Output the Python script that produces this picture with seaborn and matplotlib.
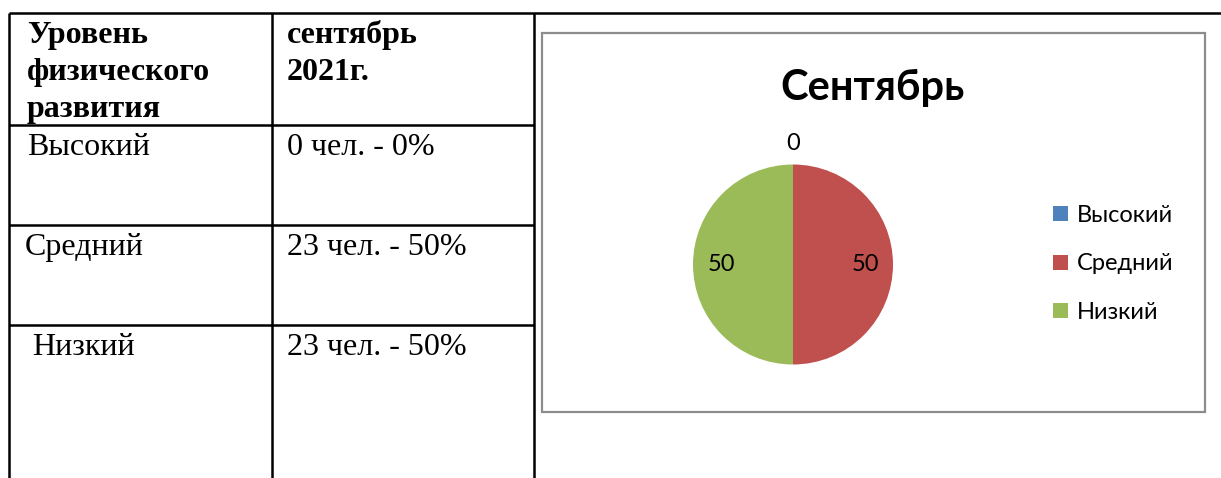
import matplotlib
matplotlib.use("Agg")
import matplotlib.pyplot as plt
from matplotlib.patches import Rectangle
import seaborn as sns

# --- data ---
levels = ["Высокий", "Средний", "Низкий"]
counts = [0, 23, 23]
percents = [0, 50, 50]
header_level = ["Уровень", "физического", "развития"]
header_month = ["сентябрь", "2021г."]
chart_title = "Сентябрь"
colors = ["#4F81BD", "#C0504D", "#9BBB59"]

sns.set_theme(style="white")
palette = sns.color_palette(colors)
plt.rcParams["font.family"] = ["Lato", "DejaVu Sans"]
plt.rcParams["text.color"] = "black"

W, H = 1221, 478
fig = plt.figure(figsize=(W / 100, H / 100), dpi=100)

# background axes in pixel coordinates (table + chart frame)
bg = fig.add_axes([0, 0, 1, 1])
bg.set_xlim(0, W)
bg.set_ylim(H, 0)
bg.axis("off")

lw_tab = 1.8
col_x = [9, 272, 534]
row_y = [125, 225, 325]
bg.plot([9, W], [13, 13], color="black", lw=lw_tab, solid_capstyle="butt")
for x in col_x:
    bg.plot([x, x], [13, H], color="black", lw=lw_tab, solid_capstyle="butt")
for y in row_y:
    bg.plot([9, 534], [y, y], color="black", lw=lw_tab, solid_capstyle="butt")

serif = "Liberation Serif"
for i, line in enumerate(header_level):
    bg.text(27, 43 + 37 * i, line, family=serif, fontsize=23, fontweight="bold",
            va="baseline", ha="left", color="black")
for i, line in enumerate(header_month):
    bg.text(287, 43 + 37 * i, line, family=serif, fontsize=23, fontweight="bold",
            va="baseline", ha="left", color="black")

indent = [27, 25, 32]
for i, (lev, c, p) in enumerate(zip(levels, counts, percents)):
    base = row_y[i] + 30
    bg.text(indent[i], base, lev, family=serif, fontsize=23, va="baseline",
            ha="left", color="black")
    bg.text(287, base, f"{c} чел. - {p}%", family=serif, fontsize=23,
            va="baseline", ha="left", color="black")

# chart frame
bg.add_patch(Rectangle((542, 33), 663, 379, fill=False, edgecolor="#8c8c8c", lw=1.6))
bg.text(873, 100, chart_title, fontsize=30, fontweight="bold", ha="center",
        va="baseline", color="black")

# pie
cx, cy, r = 793, 264.5, 100
ax = fig.add_axes([(cx - r) / W, (H - cy - r) / H, 2 * r / W, 2 * r / H])
wedges, texts = ax.pie(percents, labels=[str(p) for p in percents], colors=palette,
                       startangle=90, counterclock=False, labeldistance=0.72,
                       wedgeprops=dict(linewidth=0),
                       textprops=dict(fontsize=17, color="black", ha="center", va="center"))
# zero-size slice: label goes outside the pie
for p, t in zip(percents, texts):
    if p == 0:
        x, y = t.get_position()
        t.set_position((x / 0.72 * 1.21, y / 0.72 * 1.21))
ax.set_xlim(-1, 1)
ax.set_ylim(-1, 1)
ax.set_aspect("auto")

leg = fig.legend(wedges, levels, loc="center left",
                 bbox_to_anchor=(1053 / W, (H - 264) / H), frameon=False,
                 fontsize=17, handlelength=0.62, handleheight=0.62,
                 handletextpad=0.4, labelspacing=1.17, borderpad=0, borderaxespad=0)
for t in leg.get_texts():
    t.set_color("black")

fig.savefig("out.png", dpi=100)
